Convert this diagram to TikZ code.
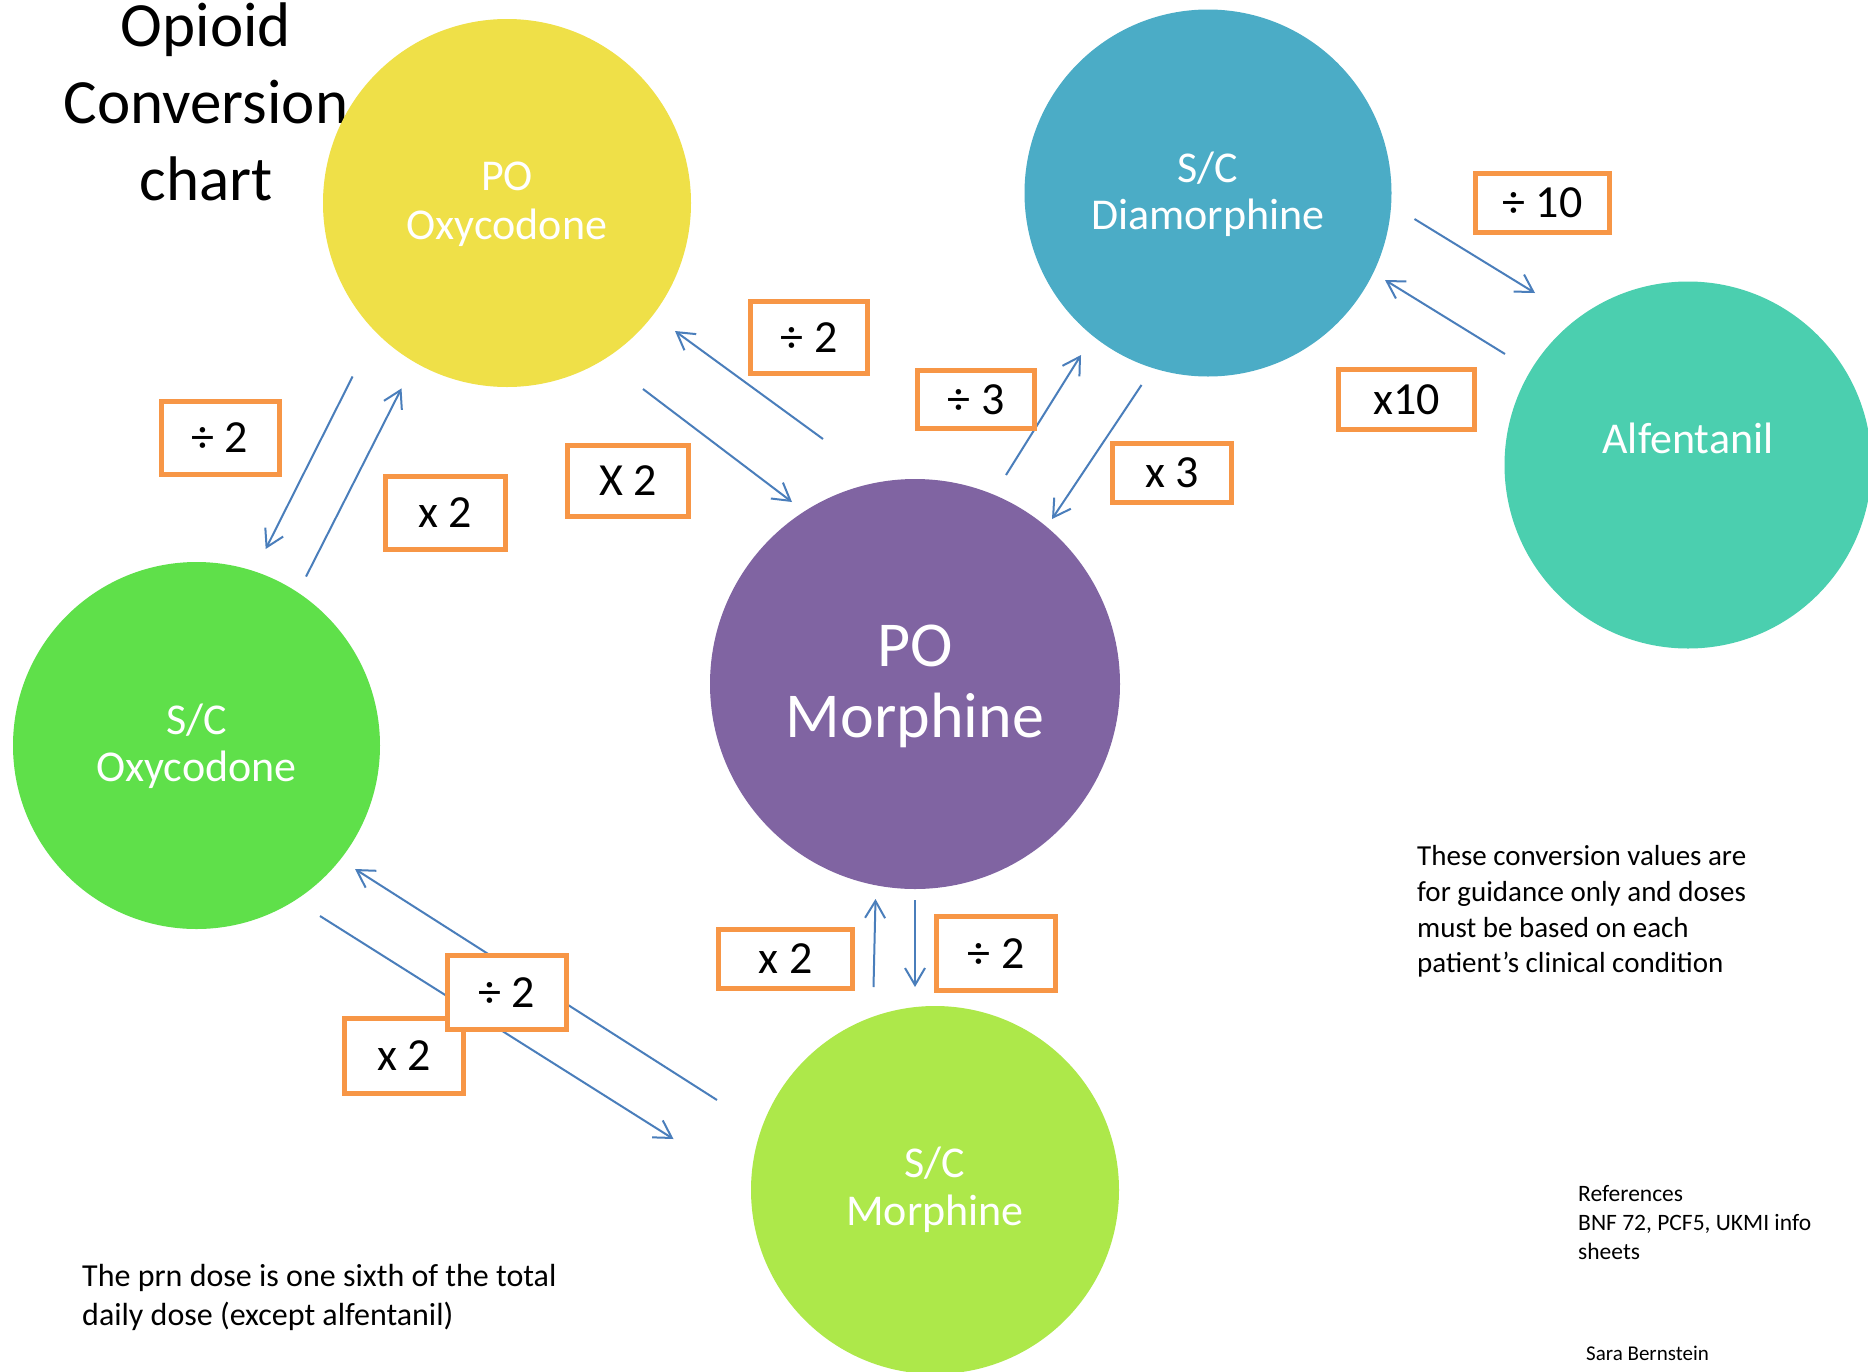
\documentclass[tikz,border=0pt]{standalone}
\usepackage{fontspec}
\setmainfont{Carlito}
\usetikzlibrary{arrows.meta}
\definecolor{cyellow}{HTML}{EFE048}
\definecolor{cblue}{HTML}{4BACC6}
\definecolor{cteal}{HTML}{4BCFAF}
\definecolor{cpurple}{HTML}{8064A2}
\definecolor{cgreen}{HTML}{5FE04A}
\definecolor{clime}{HTML}{ADE84A}
\definecolor{corange}{HTML}{F79646}
\definecolor{carrow}{HTML}{4A7EBB}
\begin{document}
\begin{tikzpicture}[x=1pt,y=-1pt,
  bubble/.style={circle, inner sep=0pt, minimum size=#1, fill},
  inlbl/.style={text=white, inner sep=0pt, anchor=base, font=\fontsize{44}{50}\selectfont},
  biglbl/.style={text=white, inner sep=0pt, anchor=base, font=\fontsize{64}{72}\selectfont},
  titlelbl/.style={text=black, inner sep=0pt, anchor=base, font=\fontsize{63}{77}\selectfont},
  convbox/.style={draw=corange, line width=5pt, fill=white, inner sep=0pt, text=black,
    font=\fontsize{46}{50}\selectfont, minimum width=#1},
  flow/.style={draw=carrow, line width=2pt, -{Straight Barb[length=17pt,width=20pt]}},
  notetxt/.style={text=black, inner sep=0pt, anchor=base west}
]
\useasboundingbox (0,0) rectangle (1868,1371);
\fill[white] (0,0) rectangle (1868,1371);

% title (under the yellow circle)
\node[titlelbl] (ti1) at (206,46.7) {Opioid};
\node[titlelbl] (ti2) at (206,123.3) {Conversion};
\node[titlelbl] (ti3) at (206,200) {chart};

% circles
\node[bubble=368, cyellow] (pooxy) at (507,203) {};
\node[bubble=367, cblue] (diam) at (1208,193) {};
\node[bubble=367, cteal] (alf) at (1688,465) {};
\node[bubble=410, cpurple] (pomor) at (915,684) {};
\node[bubble=367, cgreen] (scoxy) at (196.5,745.5) {};
\node[bubble=368, clime] (scmor) at (935,1190) {};

% circle labels
\node[inlbl] (l1a) at (507,190.7) {PO};
\node[inlbl] (l1b) at (507,239.3) {Oxycodone};
\node[inlbl] (l2a) at (1208,182) {S/C};
\node[inlbl] (l2b) at (1208,229) {Diamorphine};
\node[inlbl] (l3a) at (1688,453) {Alfentanil};
\node[biglbl] (l4a) at (915,666) {PO};
\node[biglbl] (l4b) at (915,737) {Morphine};
\node[inlbl] (l5a) at (196.5,734) {S/C};
\node[inlbl] (l5b) at (196.5,781) {Oxycodone};
\node[inlbl] (l6a) at (935,1177) {S/C};
\node[inlbl] (l6b) at (935,1225) {Morphine};

% arrow end points
\coordinate (a1s) at (643,389);    \coordinate (a1e) at (792,502);
\coordinate (a2s) at (823,439);    \coordinate (a2e) at (675,331);
\coordinate (a3s) at (1006,475);   \coordinate (a3e) at (1081,355);
\coordinate (a4s) at (1141.5,385); \coordinate (a4e) at (1052,519);
\coordinate (a5s) at (1414.5,219); \coordinate (a5e) at (1535,293);
\coordinate (a6s) at (1505,354);   \coordinate (a6e) at (1385,280);
\coordinate (a7s) at (352.6,376.5);\coordinate (a7e) at (265.7,549);
\coordinate (a8s) at (306,576.6);  \coordinate (a8e) at (401.5,388.4);
\coordinate (a9s) at (717,1100);   \coordinate (a9e) at (355,869);
\coordinate (a10s) at (320,916);   \coordinate (a10e) at (673.5,1139);
\coordinate (a11s) at (873.5,987); \coordinate (a11e) at (875.5,899);
\coordinate (a12s) at (915,900);   \coordinate (a12e) at (915,987);

\draw[flow] (a1s) -- (a1e);
\draw[flow] (a2s) -- (a2e);
\draw[flow] (a3s) -- (a3e);
\draw[flow] (a4s) -- (a4e);
\draw[flow] (a5s) -- (a5e);
\draw[flow] (a6s) -- (a6e);
\draw[flow] (a7s) -- (a7e);
\draw[flow] (a8s) -- (a8e);
\draw[flow] (a9s) -- (a9e);
\draw[flow] (a10s) -- (a10e);
\draw[flow] (a11s) -- (a11e);
\draw[flow] (a12s) -- (a12e);

% conversion boxes
\node[convbox=117, minimum height=72] (b1) at (809,337.5) {÷ 2};
\node[convbox=121, minimum height=71] (b2) at (628,481) {X 2};
\node[convbox=117, minimum height=58] (b3) at (976,399.5) {÷ 3};
\node[convbox=119, minimum height=59] (b4) at (1172,473) {x 3};
\node[convbox=134, minimum height=59] (b5) at (1542.5,203) {÷ 10};
\node[convbox=136, minimum height=60] (b6) at (1406.5,399.5) {x10};
\node[convbox=118, minimum height=73] (b7) at (220,438) {÷ 2};
\node[convbox=120, minimum height=73] (b8) at (445,513) {x 2};
\node[convbox=119, minimum height=75] (b9) at (404,1056) {x 2};
\node[convbox=119, minimum height=74] (b10) at (507,992.5) {÷ 2};
\node[convbox=134, minimum height=59] (b11) at (785.5,959) {x 2};
\node[convbox=119, minimum height=74] (b12) at (996,953.5) {÷ 2};

% notes
\node[notetxt, font=\fontsize{29}{35}\selectfont] (n1) at (1417,865) {These conversion values are};
\node[notetxt, font=\fontsize{29}{35}\selectfont] (n2) at (1417,901) {for guidance only and doses};
\node[notetxt, font=\fontsize{29}{35}\selectfont] (n3) at (1417,937) {must be based on each};
\node[notetxt, font=\fontsize{29}{35}\selectfont] (n4) at (1417,972) {patient’s clinical condition};

\node[notetxt, font=\fontsize{32}{39}\selectfont] (p1) at (82,1286) {The prn dose is one sixth of the total};
\node[notetxt, font=\fontsize{32}{39}\selectfont] (p2) at (82,1325) {daily dose (except alfentanil)};

\node[notetxt, font=\fontsize{23.5}{28}\selectfont] (r1) at (1578,1201.7) {References};
\node[notetxt, font=\fontsize{23.5}{28}\selectfont] (r2) at (1578,1230.7) {BNF 72, PCF5, UKMI info};
\node[notetxt, font=\fontsize{23.5}{28}\selectfont] (r3) at (1578,1259) {sheets};

\node[notetxt, font=\fontsize{21}{25}\selectfont] (s1) at (1586,1360) {Sara Bernstein};
\end{tikzpicture}
\end{document}
